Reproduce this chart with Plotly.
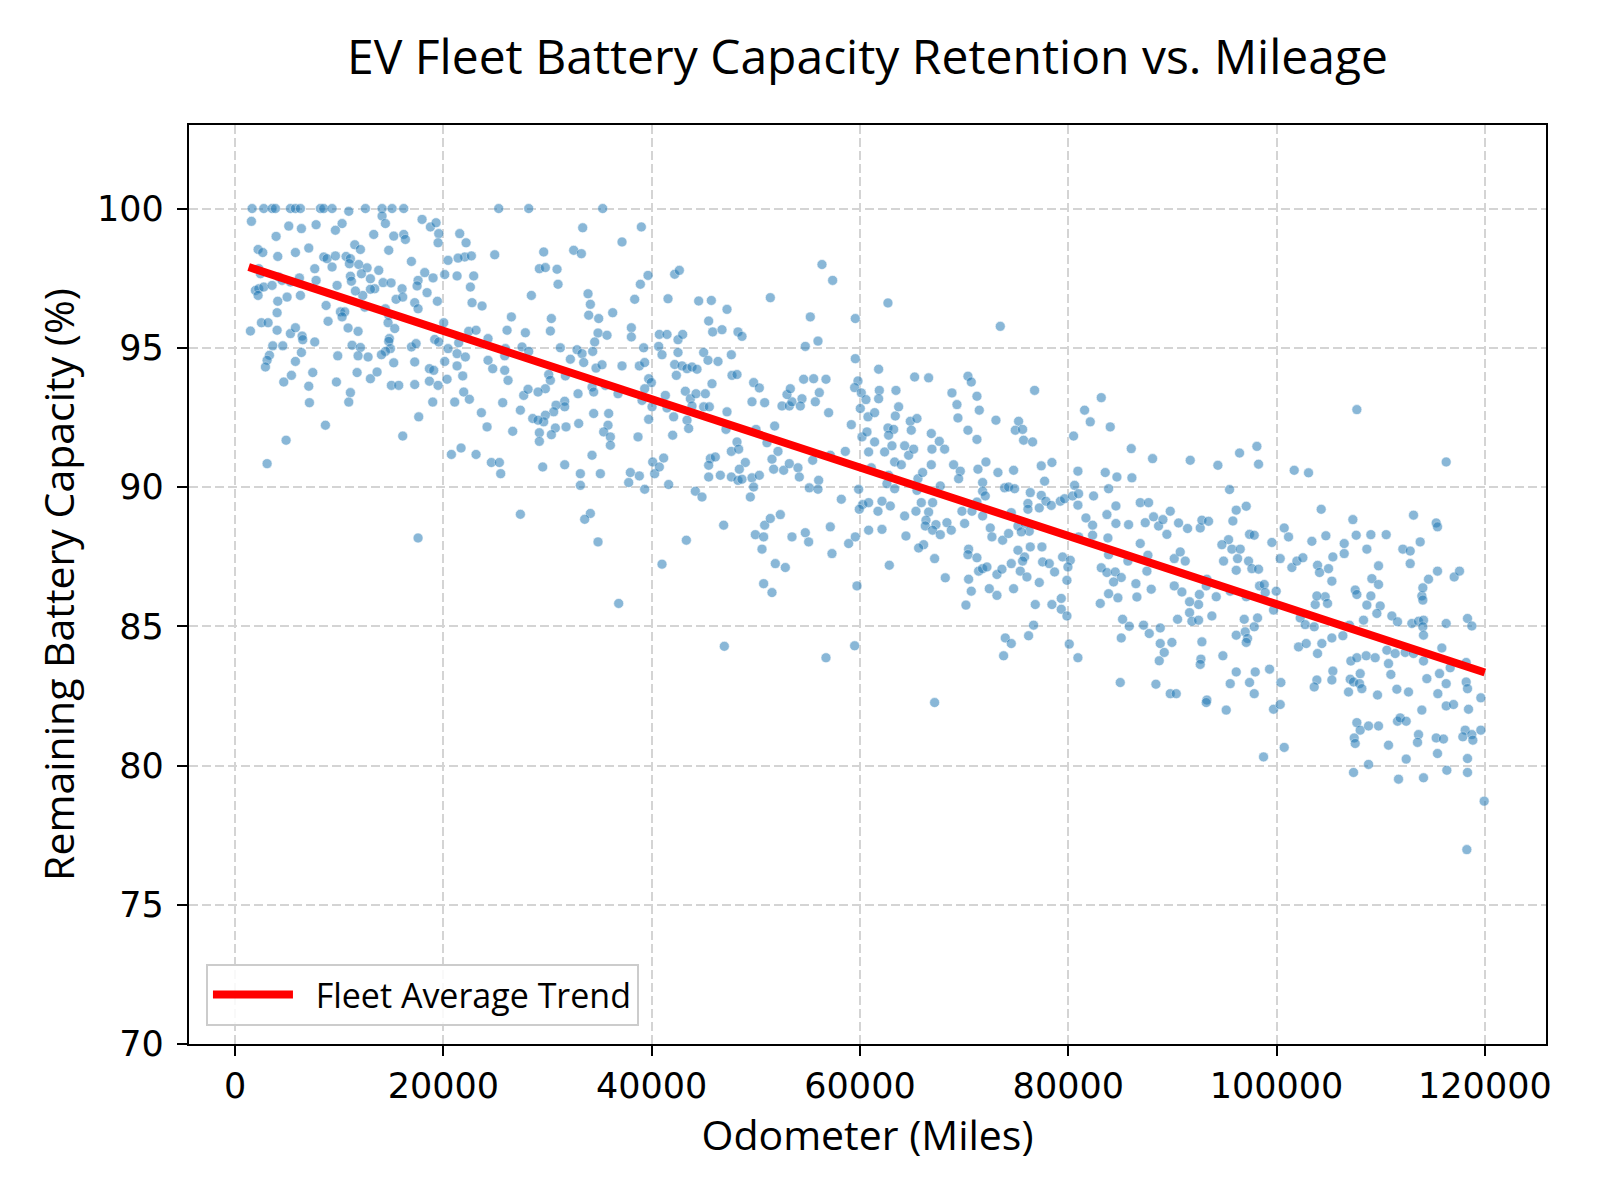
import plotly.graph_objects as go

# ---- Data (odometer miles, remaining capacity %) ----
r1_miles = [1629, 2749, 3549, 3869, 5309, 5789, 6269, 8189, 8509, 9309, 12509, 14109, 15069, 16189, 25309, 28189, 10909,
            1565, 14109, 14429, 17949, 18749, 19293, 19549, 19485, 10269, 9629, 7773, 5149, 6365, 3933, 13309, 15229, 16189,
            16349, 21565, 22173, 24925, 22045, 22685, 20445, 21405, 22909, 21309, 20125, 22589, 28445, 26525, 29629, 22749, 23709,
            2205, 2653, 4093, 5789, 7069, 11485, 12029, 14749, 16925, 8509, 8829, 9629, 10653, 11069, 10973, 9309, 7645, 11869,
            12669, 12125, 13789, 12989, 11069, 11165, 14205, 14973, 16029, 17565, 18205, 19005,
            18429, 19421, 17469, 15453, 16093, 17245, 17565, 13405, 12989, 12253, 11549, 9789, 7773, 6173, 5309, 4189, 2269,
            2429, 1949, 2269, 2205, 2749, 3549, 4509, 4989, 6269, 4093, 4029, 8733, 10109, 10525, 10269, 12445, 14429, 14749]
r1_pct = [100, 100, 100, 100, 100, 100, 100, 100, 100, 100, 100, 100, 100, 100, 100, 100, 99.9,
          99.54, 99.73, 99.46, 99.61, 99.34, 99.49, 99.10, 98.77, 99.46, 99.22, 99.42, 99.37, 99.28, 99.00, 99.07, 99.01, 99.07,
          98.89, 99.10, 98.77, 98.34, 98.26, 98.30, 98.14, 98.22, 97.58, 97.58, 97.63, 97.18, 96.88, 96.11, 98.44, 96.62, 96.50,
          98.53, 98.42, 98.28, 98.42, 98.58, 98.70, 98.53, 98.50, 98.10, 98.26, 98.20, 98.30, 98.28, 98.20, 98.02, 97.90, 97.84, 97.99,
          97.87, 97.66, 97.78, 97.48, 97.57, 97.39, 97.34, 97.33, 97.12, 97.42, 97.70, 97.51,
          96.98, 96.67, 97.22, 96.74, 96.82, 96.62, 96.40, 97.12, 97.10, 96.88, 97.04, 97.24, 97.42, 97.51, 97.36, 97.54, 97.84,
          97.66, 97.06, 97.12, 96.88, 97.18, 97.24, 97.42, 96.82, 96.88, 96.67, 96.26, 96.52, 96.29, 96.29, 96.11, 96.46, 96.40, 96.17]

r2_miles = [1469, 2525, 3165, 4029, 3613, 4573, 3293, 3069, 2909, 5309, 5789, 6429, 6493, 7645, 6365, 5789, 5405, 4669,
            7453, 7069, 7133, 8669, 4893, 8925, 10845, 11805, 11229, 12029, 11805, 12765, 9853, 11709, 12989, 13629, 9725, 11069,
            10909, 14685, 15325, 14813, 14749, 14909, 14429, 14045, 15229, 15005, 15709, 17245, 17245, 16925, 17373, 17629, 16093,
            18653, 19069, 18653, 19485, 20349, 18973, 20125, 20029, 19165, 19549, 20445, 21469, 21309, 22109, 21309, 21853, 21949,
            22493, 21085, 23645, 24189, 24285, 24733, 25885, 26205, 25693, 27389, 26653, 27709, 28125, 28573, 26109, 27869, 27549,
            28189, 22429, 23133, 24285, 25949, 25885,
            3069, 17565, 20765, 21693, 23133, 24605, 25373, 25501, 27389]
r2_pct = [95.60, 95.90, 95.90, 95.63, 95.07, 95.07, 94.73, 94.55, 94.31, 95.51, 95.72, 95.42, 95.29, 95.21, 94.83, 94.51, 94.01, 93.77,
          94.11, 93.62, 93.03, 92.22, 91.68, 95.95, 95.71, 95.59, 95.09, 95.01, 94.71, 94.67, 94.71, 94.11, 93.89, 94.13, 93.77, 93.39,
          93.05, 95.90, 95.69, 95.33, 95.23, 94.97, 94.87, 94.75, 94.46, 93.65, 93.65, 93.68, 94.49, 95.03, 95.15, 92.52, 91.83,
          94.25, 94.19, 93.80, 93.65, 93.87, 93.05, 94.51, 95.90, 95.30, 95.21, 94.97, 95.18, 94.79, 94.67, 94.35, 93.99, 93.41,
          93.15, 93.05, 92.67, 92.16, 94.55, 94.25, 94.19, 93.83, 93.03, 92.76, 92.00, 93.29, 93.51, 92.46, 95.63, 95.54, 95.03,
          94.87, 95.59, 95.63, 95.33, 94.97, 94.71,
          90.84, 88.17, 91.17, 91.40, 91.17, 90.88, 90.88, 90.48, 89.02]

r3_miles = [35293, 33373, 39005, 37149, 32509, 33245, 29213, 29789, 30909, 31005, 33885, 34109, 33949, 34909, 36253, 30365,
            30269, 34845, 35709, 34525, 38045, 38045, 38365, 38909, 39645, 42205, 42653, 41565, 44509, 45725, 47229, 45469, 45853,
            46749, 48285, 48669, 40733, 41469, 42525, 42973, 40669, 39229, 31229, 32829, 51389, 56349, 57373, 55229, 55965, 54749]
r3_pct = [100.0, 99.31, 99.34, 98.80, 98.50, 98.38, 97.84, 97.88, 97.82, 97.28, 96.94, 96.56, 96.17, 96.05, 96.26, 96.05,
          95.60, 95.53, 95.45, 95.21, 95.72, 95.39, 96.74, 97.28, 97.60, 97.64, 97.78, 96.76, 96.68, 96.70, 96.38, 95.96, 95.57,
          95.65, 95.57, 95.41, 95.48, 95.48, 95.29, 95.48, 95.05, 95.00, 95.00, 94.93, 96.80, 97.99, 97.42, 96.11, 95.24, 95.05]

r4_miles = [33309, 34333, 32189, 33469, 34653, 35229, 37149, 38813, 39325, 40989, 42525, 42205, 42909, 43389, 43869, 44349,
            42365, 44989, 45405, 46365, 47645, 47709, 48189, 49789, 50333, 49629, 50845, 51805, 50013, 51069, 52509, 53213, 53469,
            52989, 53309, 54589, 55549, 56733, 56093, 55709, 54429, 54269, 56989, 30109, 30269, 29789, 29085, 31709, 32925, 34269,
            34429, 35549, 36765, 39709, 39965, 39325, 39069, 40029, 41309, 41469, 43229, 43709, 44253, 45149, 45789, 43869, 44989,
            45533, 31645, 31645, 30813, 30589, 29789, 29629, 29085, 30749, 30365, 31773, 29213, 29213, 32989, 34429, 35869, 35805,
            35389, 36029, 36029, 38685, 39709, 42109, 42013, 43389, 43549, 47229, 47133, 48189, 47645, 48349, 45629, 46109, 45469,
            48989, 48413, 47645, 46589, 48285, 48669, 49629, 50333, 49789, 45469, 44189, 44829, 49469, 51549, 52125, 51709, 52669,
            53213, 54045, 54173, 55453, 57149, 58589, 55133, 56029, 55965, 58205, 29533, 31645, 33149, 33149, 34269, 35069, 37949,
            37789, 38813, 39325, 40285, 40093, 40733, 41149, 41629]
r4_pct = [94.79, 94.87, 94.59, 94.47, 94.27, 94.39, 94.35, 94.35, 94.47, 94.75, 94.83, 94.40, 94.35, 94.25, 94.31, 94.23,
          94.01, 94.83, 94.55, 94.51, 94.75, 94.01, 94.04, 93.75, 93.56, 93.06, 93.03, 92.19, 92.07, 91.59, 92.91, 92.91, 93.06,
          93.32, 93.53, 93.87, 93.89, 93.87, 93.39, 93.06, 93.17, 92.91, 92.67, 94.04, 93.83, 93.53, 93.41, 93.99, 93.35, 93.59,
          93.41, 93.65, 93.35, 93.89, 93.75, 93.53, 93.11, 92.88, 93.29, 92.84, 93.44, 93.17, 93.35, 93.35, 93.71, 92.91, 92.88,
          92.88, 93.08, 92.88, 92.94, 92.70, 92.58, 92.34, 92.40, 92.12, 91.88, 92.16, 91.95, 91.64, 92.28, 92.64, 92.64, 92.22,
          91.98, 91.80, 91.50, 91.80, 92.43, 92.52, 91.86, 92.40, 92.10, 92.70, 92.07, 91.62, 91.28, 91.36, 91.02, 91.08, 90.78,
          90.88, 90.64, 90.36, 90.42, 90.24, 90.28, 90.33, 90.42, 90.00, 90.36, 89.85, 89.64, 89.64, 91.00, 91.28, 90.64, 90.60,
          90.84, 90.69, 90.36, 90.96, 91.14, 91.28, 89.97, 90.24, 89.92, 89.56, 90.72, 90.80, 90.48, 90.06, 91.14, 90.48, 90.52,
          90.16, 90.40, 89.92, 90.48, 90.90, 90.72, 91.04, 90.09]

r5_miles = [34109, 33565, 34845, 36829, 40989, 43325, 46909, 49949, 50749, 50845, 51389, 52349, 50589, 51869, 52829, 50749,
            51549, 53469, 54749, 55069, 57149, 57309, 58909, 46973, 56733]
r5_pct = [89.05, 88.84, 88.03, 85.82, 87.23, 88.09, 88.63, 88.29, 88.21, 88.63, 88.87, 89.01, 87.77, 87.25, 87.11, 86.53,
          86.21, 88.21, 88.36, 88.03, 88.57, 87.61, 87.97, 84.28, 83.87]

r6_miles = [62685, 59549, 73469, 59549, 61789, 59805, 59485, 60125, 60573, 61853, 61789, 63453, 65245, 66589, 70365, 70685,
            68829, 71229, 76765, 83165]
r6_pct = [96.61, 96.05, 95.77, 94.61, 94.23, 93.81, 93.57, 93.38, 93.14, 93.47, 93.17, 93.47, 93.95, 93.92, 93.98, 93.77,
          93.38, 93.26, 93.47, 93.21]

r7_miles = [60029, 60765, 61405, 59165, 60189, 60669, 60829, 61405, 62365, 62685, 63229, 63389, 63709, 62749, 63069, 64285,
            64669, 65149, 64829, 65469, 64925, 63325, 63965, 61085, 62749, 62589, 63325, 65565, 66013, 66845, 66909, 66845, 67613,
            68125, 68989, 69629, 69469, 67709, 65469, 59869, 60253, 60829, 59933, 62109, 61725, 62909, 65885, 66973, 65373, 66589,
            64285, 66333, 66269, 67293, 68349, 66973, 67709, 68765, 60829, 62109, 64413, 59549, 66109, 69309, 69405, 71453, 70365,
            71229, 73053, 75229, 74909, 75613, 75709, 76573, 71325, 72093, 73245, 74749, 71773, 71773, 72029, 73885, 74269, 74845,
            71229, 69789, 70749, 71773, 70045, 72509, 72669, 73693, 74269, 74525, 75165, 75869, 76253, 75485, 76349, 76125, 76125,
            77213, 77405, 77853, 78365, 77405, 78429, 77725, 79229, 79645, 80605, 80413, 80989, 80925, 80509, 81565, 82109, 84029,
            83549, 84669, 83869, 82429, 80925, 81693, 82333, 82333, 80989, 83709, 84573, 84573, 83805, 85789, 86045, 86109, 86909,
            87709, 87389, 88093, 88189, 88669, 86909]
r7_pct = [92.82, 92.52, 92.67, 92.24, 91.80, 91.98, 91.26, 91.62, 91.26, 92.12, 92.07, 92.55, 92.88, 91.86, 91.48, 91.48,
          91.14, 91.36, 92.36, 92.46, 92.04, 90.90, 90.80, 90.69, 90.42, 90.12, 89.94, 90.30, 90.52, 90.80, 91.36, 91.92, 91.64,
          91.36, 90.80, 90.57, 90.30, 90.04, 89.88, 89.92, 89.37, 89.44, 89.20, 89.49, 89.13, 89.32, 89.44, 89.44, 89.13, 89.10,
          88.96, 88.81, 88.60, 88.65, 88.72, 88.45, 88.29, 88.45, 88.45, 88.48, 88.24, 88.21, 87.93, 92.96, 92.48, 92.76, 92.04,
          91.71, 92.40, 92.36, 92.04, 92.07, 91.68, 91.62, 90.64, 90.90, 90.52, 90.60, 90.16, 89.85, 89.68, 89.97, 90.00, 89.94,
          89.46, 89.13, 89.13, 88.96, 88.69, 88.53, 88.21, 88.09, 88.33, 89.08, 88.60, 88.69, 88.41, 88.39, 89.80, 89.41, 89.20,
          89.25, 89.70, 89.49, 89.34, 90.76, 90.88, 90.21, 89.49, 89.58, 90.06, 89.68, 89.76, 90.57, 91.83, 92.76, 92.34, 92.16,
          90.52, 90.36, 89.94, 89.68, 89.35, 88.89, 88.63, 88.27, 88.21, 89.01, 89.32, 88.69, 88.17, 88.65, 91.38, 90.33, 89.44,
          89.44, 88.72, 91.02, 88.93, 88.60, 87.97]

r8_miles = [62813, 59709, 59485, 65629, 67165, 68189, 67165, 70429, 70365, 71229, 70429, 70685, 70173, 71389, 71773, 72189,
            72413, 73149, 73149, 73629, 74525, 74749, 75165, 75805, 75613, 75389, 76029, 76349, 77469, 77533, 78173, 78685, 77213,
            76829, 78429, 79325, 79325, 79869, 79453, 80189, 79965, 79869, 76669, 76189, 73949, 74525, 73789, 80093, 80925, 83165,
            83869, 83709, 84509, 85085, 84349, 83869, 84765, 83069, 85725, 86493, 86589, 87549, 87645, 87965, 85213, 85853, 85085,
            87229, 87773, 88733, 84989, 88413]
r8_pct = [87.19, 86.45, 84.30, 87.81, 87.43, 86.74, 82.26, 87.77, 87.57, 87.46, 86.69, 86.26, 85.76, 86.98, 87.07, 87.13,
          86.35, 86.11, 86.86, 87.05, 87.25, 86.35, 87.73, 87.49, 87.34, 86.98, 86.77, 87.85, 87.85, 87.31, 87.25, 86.95, 86.57,
          85.78, 85.78, 86.00, 85.61, 85.37, 87.49, 87.37, 87.13, 86.65, 85.04, 84.66, 84.58, 84.38, 83.94, 84.36, 83.87, 87.10,
          87.57, 86.93, 86.95, 86.75, 86.59, 86.17, 86.02, 85.82, 87.34, 86.53, 86.05, 86.98, 87.55, 86.33, 85.25, 85.00, 84.58,
          85.04, 84.74, 83.76, 82.98, 82.92]

r9_miles = [107709, 91709, 94365, 96445, 98109, 98269, 101693, 103069, 116285, 95485, 89789, 89085, 90589, 91453, 92669,
            92829, 93469, 96125, 97085, 95805, 89469, 97405, 97853, 95389, 100733, 101149, 104285, 107325, 104733, 107645, 109053,
            110525, 113149, 115325, 115453, 113789]
r9_pct = [92.78, 90.96, 90.78, 91.22, 91.46, 90.82, 90.60, 90.51, 90.90, 89.91, 89.13, 88.83, 88.71, 88.51, 88.53,
          88.81, 88.77, 89.17, 89.31, 88.78, 88.30, 88.30, 88.27, 88.11, 88.53, 88.21, 89.20, 88.83, 88.25, 88.27, 88.29,
          88.29, 88.99, 88.71, 88.57, 88.03]

r10_miles = [95709, 96509, 99549, 103389, 106493, 108669, 106493, 112125, 112829, 112829, 94749, 90173, 90749, 91229, 94909,
             96253, 96125, 97309, 97629, 98269, 100349, 101469, 101949, 102525, 103933, 104125, 104989, 105405, 105309, 90173,
             90909, 93309, 93245, 94205, 92589, 92509, 91645, 91645, 91869, 92509, 90493, 93789, 95549, 98365, 98813, 98909, 99965,
             97085, 99709, 96893, 98173, 97853, 96125, 96989, 97213, 97085, 88829, 88829, 89949, 89213, 92829, 92733, 92669, 94845,
             96125, 97949, 99325, 97405, 95549, 97853, 100413, 89789, 90365, 93309, 102269, 102749, 103613, 103709, 104669, 104893,
             106365, 106989, 108349, 108669, 109053, 107549, 107709, 109149, 109789, 109789, 109949, 109629, 111069, 111613, 112989,
             113629, 114109, 114045, 114109, 113949, 114045, 114045, 114589, 115453, 117053, 117565, 116285, 118333, 118749, 102109,
             102845, 103933, 104349, 105309, 107133, 107709, 108605, 109469, 110589, 110749, 111389, 112349, 113149, 114109, 115869,
             118205, 116669, 115645, 114429, 116285, 118205, 118333, 115485, 112669, 111549, 110973, 109693, 108029, 107069, 107389,
             107965, 108189, 106909, 105405, 105309, 103869, 103613, 103869, 119613]
r10_pct = [87.77, 87.77, 88.01, 88.05, 87.97, 87.77, 87.61, 87.77, 87.70, 87.25, 87.93, 87.43, 87.67, 87.34, 87.34,
           87.43, 87.01, 87.34, 87.07, 87.05, 87.43, 87.11, 87.34, 87.46, 87.19, 86.93, 87.07, 87.49, 86.62, 86.45,
           86.23, 86.69, 86.45, 86.06, 86.14, 85.78, 85.88, 85.49, 85.18, 85.22, 85.25, 85.37, 86.26, 86.45, 86.50, 86.21, 86.26,
           86.06, 85.58, 85.25, 85.30, 84.98, 84.68, 84.80, 84.56, 84.42, 84.94, 84.38, 84.42, 84.06, 84.44, 83.82, 83.63, 83.94,
           83.36, 83.36, 83.46, 82.98, 82.94, 82.58, 82.98, 82.58, 82.58, 82.35, 85.30, 85.06, 84.98, 85.78, 86.06, 85.82,
           84.66, 85.04, 85.22, 85.76, 86.09, 86.30, 86.14, 86.71, 86.50, 87.17, 85.73, 85.46, 85.37, 85.16, 85.10,
           85.18, 85.22, 84.98, 84.68, 86.09, 85.94, 86.38, 86.69, 86.98, 86.77, 86.98, 85.10, 85.28, 85.01, 84.26,
           84.38, 84.02, 84.38, 84.58, 83.75, 83.87, 83.94, 83.87, 84.14, 83.66, 84.02, 84.06, 84.02, 83.75, 84.22,
           83.70, 83.51, 83.30, 83.12, 82.94, 83.00, 82.76, 82.58, 82.64, 82.74, 83.27, 82.53, 83.30, 83.10, 83.00,
           82.94, 82.76, 82.64, 83.39, 83.07, 83.07, 82.82, 86.09, 82.43]

r11_miles = [93245, 95165, 99709, 100349, 100733, 98749, 116285, 116989, 118429, 107709, 108029, 108829, 109789, 107453,
             107549, 111613, 111869, 112445, 113949, 113629, 113533, 110749, 112445, 115325, 116029, 115453, 118109, 117885, 118749,
             118845, 119613, 108829, 107389, 111709, 114109, 116349, 118333, 118333, 119933, 118269]
r11_pct = [82.26, 81.99, 82.02, 82.19, 80.65, 80.31, 82.14, 82.19, 82.02, 81.54, 81.27, 81.42, 81.42, 80.99,
           80.79, 81.59, 81.71, 81.59, 81.99, 81.11, 80.83, 80.73, 80.23, 80.99, 80.95, 80.43, 81.27, 81.03, 81.11,
           80.91, 81.27, 80.04, 79.75, 79.51, 79.56, 79.83, 80.25, 79.75, 78.72, 76.98]

trend_miles = [1300, 120000]
trend_pct = [97.9, 83.34]

x_ticks = [0, 20000, 40000, 60000, 80000, 100000, 120000]
x_tick_labels = ["0", "20000", "40000", "60000", "80000", "100000", "120000"]
y_ticks = [70, 75, 80, 85, 90, 95, 100]
y_tick_labels = ["70", "75", "80", "85", "90", "95", "100"]

miles = (r1_miles + r2_miles + r3_miles + r4_miles + r5_miles + r6_miles + r7_miles
         + r8_miles + r9_miles + r10_miles + r11_miles)
pct = (r1_pct + r2_pct + r3_pct + r4_pct + r5_pct + r6_pct + r7_pct
       + r8_pct + r9_pct + r10_pct + r11_pct)
n = min(len(miles), len(pct))
miles, pct = miles[:n], pct[:n]

FONT = "Open Sans"
TICK_FONT = "DejaVu Sans"

fig = go.Figure()
fig.add_trace(go.Scatter(
    x=miles, y=pct, mode="markers", showlegend=False, name="Vehicles",
    marker=dict(size=10, color="#1f77b4", opacity=0.52, line=dict(width=0.6, color="white")),
))
fig.add_trace(go.Scatter(
    x=trend_miles, y=trend_pct, mode="lines", name="\u00a0\u00a0Fleet Average Trend",
    line=dict(color="#ff0000", width=8),
))

axis_common = dict(
    showline=True, linecolor="black", linewidth=2.2, mirror=True,
    ticks="outside", ticklen=10, tickwidth=2.2, tickcolor="black",
    showgrid=True, gridcolor="#d4d4d4", gridwidth=1.8, griddash="9px,4px",
    zeroline=False, tickfont=dict(family=TICK_FONT, size=35, color="black"),
)

fig.update_layout(
    width=1600, height=1200,
    paper_bgcolor="white", plot_bgcolor="white",
    margin=dict(l=189, r=54, t=125, b=156),
    title=dict(text="EV Fleet Battery Capacity Retention vs. Mileage", x=0.5, xref="paper",
               y=0.952, yref="container", yanchor="middle",
               font=dict(family=FONT, size=48, color="black")),
    xaxis=dict(axis_common, range=[-4430, 125870], tickvals=x_ticks, ticktext=x_tick_labels,
               title=dict(text="Odometer (Miles)", font=dict(family=FONT, size=41, color="black"), standoff=10)),
    yaxis=dict(axis_common, range=[70, 103], tickvals=y_ticks, ticktext=y_tick_labels, ticklabelstandoff=6,
               title=dict(text="Remaining Battery Capacity (%)", font=dict(family=FONT, size=41, color="black"), standoff=10)),
    legend=dict(x=0.0125, y=0.0196, xanchor="left", yanchor="bottom",
                bgcolor="rgba(255,255,255,0.85)", bordercolor="#cccccc", borderwidth=2,
                font=dict(family=FONT, size=34, color="black"), itemwidth=80),
    font=dict(family=FONT, color="black"),
)

fig.write_html("out.html")
